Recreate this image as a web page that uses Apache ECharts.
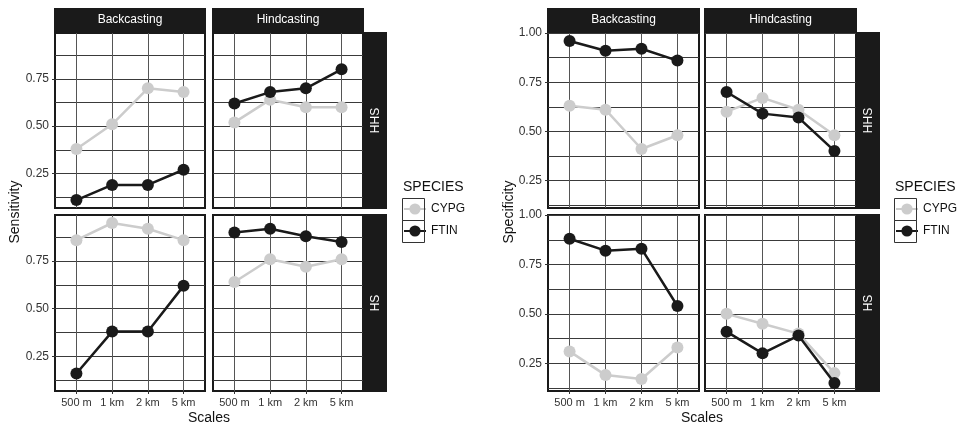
<!DOCTYPE html>
<html><head><meta charset="utf-8">
<script src="https://cdn.jsdelivr.net/npm/echarts@6/dist/echarts.min.js"></script>
<style>html,body{margin:0;padding:0;background:#fff}#c{width:967px;height:425px}</style>
</head><body><div id="c"></div>
<script>
// ---- data ----
const scales = ['500 m', '1 km', '2 km', '5 km'];
const methods = ['Backcasting', 'Hindcasting'];
const sites = ['HHS', 'HS'];
const species = ['CYPG', 'FTIN'];
const sensMajor = [0.25, 0.5, 0.75];
const sensMinor = [0.125, 0.375, 0.625, 0.875];
const specMajor = [0.25, 0.5, 0.75, 1.0];
const specMinor = [0.125, 0.375, 0.625, 0.875];

// Sensitivity
const sensHHSBackCYPG = [0.38, 0.51, 0.70, 0.68];
const sensHHSBackFTIN = [0.11, 0.19, 0.19, 0.27];
const sensHHSHindCYPG = [0.52, 0.64, 0.60, 0.60];
const sensHHSHindFTIN = [0.62, 0.68, 0.70, 0.80];
const sensHSBackCYPG = [0.86, 0.95, 0.92, 0.86];
const sensHSBackFTIN = [0.16, 0.38, 0.38, 0.62];
const sensHSHindCYPG = [0.64, 0.76, 0.72, 0.76];
const sensHSHindFTIN = [0.90, 0.92, 0.88, 0.85];
// Specificity
const specHHSBackCYPG = [0.63, 0.61, 0.41, 0.48];
const specHHSBackFTIN = [0.96, 0.91, 0.92, 0.86];
const specHHSHindCYPG = [0.60, 0.67, 0.61, 0.48];
const specHHSHindFTIN = [0.70, 0.59, 0.57, 0.40];
const specHSBackCYPG = [0.31, 0.19, 0.17, 0.33];
const specHSBackFTIN = [0.88, 0.82, 0.83, 0.54];
const specHSHindCYPG = [0.50, 0.45, 0.40, 0.20];
const specHSHindFTIN = [0.41, 0.30, 0.39, 0.15];

// ---- layout / style ----
const FONT = '"Liberation Sans", Arial, Helvetica, sans-serif';
const DARK = '#1a1a1a';
const colors = { CYPG: '#cccccc', FTIN: '#1a1a1a' };

const figs = [
  {
    title: 'Sensitivity', titleX: 15, colX: [55, 213], colW: 150, legendX: 403,
    major: sensMajor, minor: sensMinor,
    data: [
      [[sensHHSBackCYPG, sensHHSBackFTIN], [sensHHSHindCYPG, sensHHSHindFTIN]],
      [[sensHSBackCYPG, sensHSBackFTIN], [sensHSHindCYPG, sensHSHindFTIN]]
    ]
  },
  {
    title: 'Specificity', titleX: 509, colX: [548, 705], colW: 151, legendX: 895,
    major: specMajor, minor: specMinor,
    data: [
      [[specHHSBackCYPG, specHHSBackFTIN], [specHHSHindCYPG, specHHSHindFTIN]],
      [[specHSBackCYPG, specHSBackFTIN], [specHSHindCYPG, specHSHindFTIN]]
    ]
  }
];
const rowY = [33, 215];
const rowH = [175, 176];

const grids = [], xAxes = [], yAxes = [], series = [], graphics = [], legends = [];

figs.forEach(fig => {
  // shared y range with 5% expansion (ggplot default)
  const all = [];
  fig.data.forEach(r => r.forEach(c => c.forEach(a => all.push(...a))));
  const lo = Math.min(...all), hi = Math.max(...all);
  const pad = (hi - lo) * 0.05;
  const yMin = lo - pad, yMax = hi + pad;
  const gridVals = fig.major.concat(fig.minor).sort((a, b) => a - b);

  for (let r = 0; r < 2; r++) {
    for (let c = 0; c < 2; c++) {
      const gi = grids.length;
      grids.push({
        left: fig.colX[c], top: rowY[r], width: fig.colW, height: rowH[r],
        show: true, backgroundColor: '#fff', borderColor: DARK, borderWidth: 2,
        containLabel: false
      });
      const bottom = r === 1;
      const xi = xAxes.length;
      xAxes.push({
        type: 'value', gridIndex: gi, min: -0.6, max: 3.6,
        axisLine: { show: false },
        axisTick: { show: bottom, length: 3, lineStyle: { color: '#333', width: 1 }, customValues: [0, 1, 2, 3] },
        axisLabel: {
          show: bottom, customValues: [0, 1, 2, 3], margin: 6,
          formatter: v => scales[Math.round(v)] || '',
          color: '#333', fontSize: 11, fontFamily: FONT
        },
        splitLine: { show: true, lineStyle: { color: '#555', width: 1 } }
      });
      const yi = yAxes.length;
      yAxes.push({
        type: 'value', gridIndex: gi, min: yMin, max: yMax,
        axisLine: { show: false },
        axisTick: { show: false, customValues: gridVals },
        axisLabel: {
          show: c === 0, customValues: fig.major, margin: 6,
          formatter: v => v.toFixed(2),
          color: '#333', fontSize: 12, fontFamily: FONT
        },
        splitLine: { show: true, lineStyle: { color: '#3a3a3a', width: 1 } }
      });
      if (c === 0) {
        // outside tick marks at major breaks only
        yAxes.push({
          type: 'value', gridIndex: gi, min: yMin, max: yMax, position: 'left',
          axisLine: { show: false },
          axisTick: { show: true, length: 3, lineStyle: { color: '#333', width: 1 }, customValues: fig.major },
          axisLabel: { show: false },
          splitLine: { show: false }
        });
      }
      species.forEach((sp, k) => {
        series.push({
          name: sp, type: 'line', xAxisIndex: xi, yAxisIndex: yi,
          data: fig.data[r][c][k].map((v, i) => [i, v]),
          symbol: 'circle', symbolSize: 12,
          itemStyle: { color: colors[sp] },
          lineStyle: { color: colors[sp], width: 2.5 },
          z: 3 + k, silent: true, animation: false, clip: false
        });
      });

      // top strip
      if (r === 0) {
        graphics.push({
          type: 'rect', shape: { x: fig.colX[c] - 1, y: 8, width: fig.colW + 2, height: 24 },
          style: { fill: DARK }, z: 10
        });
        graphics.push({
          type: 'text', x: fig.colX[c] + fig.colW / 2, y: 20,
          style: { text: methods[c], fill: '#fff', font: '12px ' + FONT, align: 'center', verticalAlign: 'middle' }, z: 11
        });
      }
      // right strip
      if (c === 1) {
        const sx = fig.colX[1] + fig.colW + 1;
        graphics.push({
          type: 'rect', shape: { x: sx, y: rowY[r] - 1, width: 23, height: rowH[r] + 2 },
          style: { fill: DARK }, z: 10
        });
        graphics.push({
          type: 'text', x: sx + 11.5, y: rowY[r] + rowH[r] / 2, rotation: Math.PI / 2,
          style: { text: sites[r], fill: '#fff', font: '12px ' + FONT, align: 'center', verticalAlign: 'middle' }, z: 11
        });
      }
    }
  }
  // axis titles
  const xc = (fig.colX[0] + fig.colX[1] + fig.colW) / 2;
  graphics.push({
    type: 'text', x: xc, y: 418,
    style: { text: 'Scales', fill: '#111', font: '14px ' + FONT, align: 'center', verticalAlign: 'middle' }
  });
  graphics.push({
    type: 'text', x: fig.titleX, y: 212, rotation: Math.PI / 2,
    style: { text: fig.title, fill: '#111', font: '14px ' + FONT, align: 'center', verticalAlign: 'middle' }
  });
  // legend title and key boxes
  graphics.push({
    type: 'text', x: fig.legendX, y: 187,
    style: { text: 'SPECIES', fill: '#111', font: '14px ' + FONT, align: 'left', verticalAlign: 'middle' }
  });
  for (let k = 0; k < 2; k++) {
    graphics.push({
      type: 'rect', shape: { x: fig.legendX - 0.5, y: 198.5 + 22 * k, width: 22, height: 22 },
      style: { fill: 'none', stroke: '#333', lineWidth: 1 }, z: 20
    });
  }
  legends.push({
    left: fig.legendX, top: 198, orient: 'vertical', itemGap: 0, padding: 0,
    itemWidth: 22, itemHeight: 14, selectedMode: false, data: species,
    textStyle: { fontSize: 12, fontFamily: FONT, color: '#111', lineHeight: 22 }
  });
});

const chart = echarts.init(document.getElementById('c'), null, { renderer: 'canvas' });
chart.setOption({
  animation: false,
  backgroundColor: '#fff',
  grid: grids, xAxis: xAxes, yAxis: yAxes, series: series,
  legend: legends,
  graphic: { elements: graphics }
});
</script></body></html>
